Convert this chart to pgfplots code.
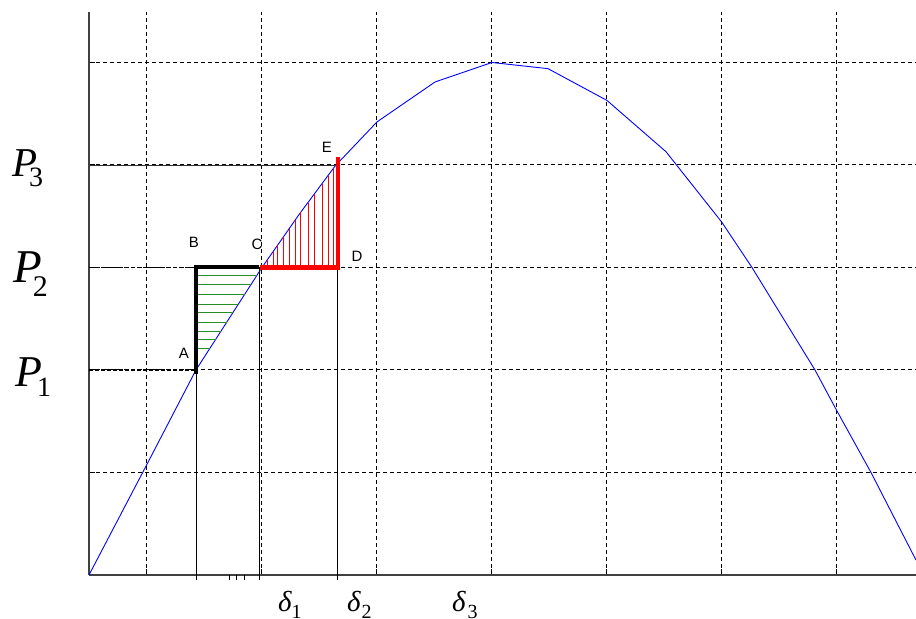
\documentclass[border=0pt]{standalone}
\usepackage{pgfplots}
\pgfplotsset{compat=1.18}
\usepackage{fontspec}
\setmainfont{Liberation Serif}
\newfontfamily\arial{Liberation Sans}
\definecolor{hgreen}{RGB}{40,140,40}
\begin{document}
\begin{tikzpicture}
\begin{axis}[
  scale only axis, width=827bp, height=563bp,
  xmin=0, xmax=7.1913, ymin=0, ymax=5.4927,
  axis x line=bottom, axis y line=left,
  axis line style={-, line width=1.3bp, black!75},
  xtick={0.5,1.5,2.5,3.5,4.5,5.5,6.5}, ytick={1,2,3,4,5},
  xticklabels={}, yticklabels={},
  tick align=inside, major tick length=6bp,
  tick style={black, line width=1bp},
  grid=major,
  grid style={black, line width=1bp, dash pattern=on 4bp off 3bp},
  clip=false,
  unbounded coords=jump,
]
% power-angle curve
\addplot[blue, line width=0.9bp] coordinates {
 (0,0) (0.504,1.08) (0.930,2.0) (1.504,3.0) (1.835,3.53) (2.14,3.99)
 (2.504,4.42) (3.009,4.81) (3.504,5.0) (3.991,4.94) (4.504,4.63)
 (5.017,4.13) (5.504,3.44) (5.765,3.0) (6.313,2.0) (6.504,1.6)
 (6.8,1.0) (7.191,0.146)};
% green hatching (accelerating area)
\addplot[hgreen, line width=0.9bp] coordinates {
 (0.95,2.927) (1.462,2.927) (nan,nan)
 (0.95,2.839) (1.412,2.839) (nan,nan)
 (0.95,2.741) (1.355,2.741) (nan,nan)
 (0.95,2.644) (1.300,2.644) (nan,nan)
 (0.95,2.566) (1.255,2.566) (nan,nan)
 (0.95,2.468) (1.199,2.468) (nan,nan)
 (0.95,2.380) (1.148,2.380) (nan,nan)
 (0.95,2.302) (1.103,2.302) (nan,nan)
 (0.95,2.215) (1.053,2.215)};
% red hatching (decelerating area)
\addplot[red, line width=0.9bp] coordinates {
 (1.548,3) (1.548,3.070) (nan,nan)
 (1.600,3) (1.600,3.154) (nan,nan)
 (1.643,3) (1.643,3.223) (nan,nan)
 (1.687,3) (1.687,3.293) (nan,nan)
 (1.739,3) (1.739,3.376) (nan,nan)
 (1.791,3) (1.791,3.460) (nan,nan)
 (1.843,3) (1.843,3.542) (nan,nan)
 (1.904,3) (1.904,3.634) (nan,nan)
 (1.957,3) (1.957,3.714) (nan,nan)
 (2.026,3) (2.026,3.818) (nan,nan)
 (2.078,3) (2.078,3.896) (nan,nan)
 (2.122,3) (2.122,3.963)};
% thin vertical lines
\addplot[black, line width=0.9bp] coordinates {
 (0.930,-0.05) (0.930,2) (nan,nan)
 (1.478,-0.05) (1.478,3) (nan,nan)
 (2.157,-0.05) (2.157,3) (nan,nan)
 (1.217,-0.05) (1.217,0) (nan,nan)
 (1.278,-0.05) (1.278,0) (nan,nan)
 (1.348,-0.05) (1.348,0)};
% P3 line
\addplot[black!80, line width=0.9bp] coordinates {(0,4) (2.165,4)};
% P1, P2 lines
\addplot[black, line width=1.4bp, dash pattern=on 4bp off 2bp] coordinates {
 (0,2) (0.93,2) (nan,nan) (0,3) (0.93,3)};
% thick black A-B-C
\addplot[black, line width=4bp] coordinates {(0.930,1.96) (0.930,3) (1.478,3)};
% thick red C-D-E
\addplot[red, line width=4.5bp] coordinates {(1.49,3) (2.165,3) (2.165,4.08)};
\coordinate (TL) at (axis cs:-0.77391,5.60976);
\coordinate (BR) at (axis cs:7.1913,-0.42927);
\end{axis}
\begin{scope}[shift={(TL)}, x=1bp, y=-1bp]
\node[anchor=base west, inner sep=0] at (12,177) {\fontsize{41bp}{41bp}\selectfont\itshape P\kern-8bp\raisebox{-10bp}{\fontsize{28bp}{28bp}\selectfont\upshape 3}};
\node[anchor=base west, inner sep=0] at (13,283) {\fontsize{47bp}{47bp}\selectfont\itshape P\kern-9bp\raisebox{-14bp}{\fontsize{30bp}{30bp}\selectfont\upshape 2}};
\node[anchor=base west, inner sep=0] at (15,387) {\fontsize{44bp}{44bp}\selectfont\itshape P\kern-5bp\raisebox{-10bp}{\fontsize{28bp}{28bp}\selectfont\upshape 1}};
\node[anchor=base west, inner sep=0] at (278,612) {\fontsize{29bp}{29bp}\selectfont\itshape δ\kern0bp\raisebox{-7bp}{\fontsize{20bp}{20bp}\selectfont\upshape 1}};
\node[anchor=base west, inner sep=0] at (347,612) {\fontsize{29bp}{29bp}\selectfont\itshape δ\kern1bp\raisebox{-7bp}{\fontsize{20bp}{20bp}\selectfont\upshape 2}};
\node[anchor=base west, inner sep=0] at (452,612) {\fontsize{29bp}{29bp}\selectfont\itshape δ\kern2bp\raisebox{-7bp}{\fontsize{20bp}{20bp}\selectfont\upshape 3}};
\begin{scope}[every node/.style={font=\arial\fontsize{15bp}{17bp}\selectfont, inner sep=0}]
\node at (184,353) {A};
\node at (194,242) {B};
\node at (257,244) {C};
\node at (357,256) {D};
\node at (327,147) {E};
\end{scope}
\end{scope}
\pgfresetboundingbox
\path[use as bounding box] (TL) rectangle (BR);
\end{tikzpicture}
\end{document}
